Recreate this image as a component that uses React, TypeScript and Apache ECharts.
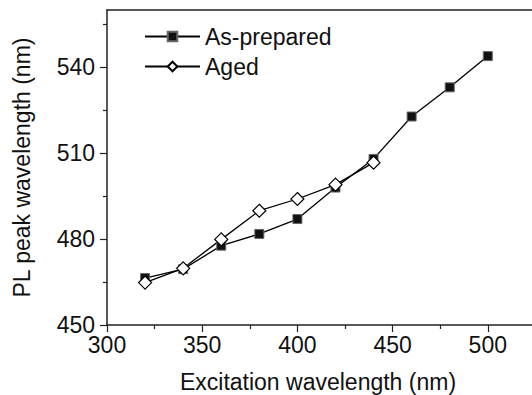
import React, { useEffect, useRef } from "react";
import * as echarts from "echarts";

const asPreparedX = [320, 340, 360, 380, 400, 420, 440, 460, 480, 500];
const asPreparedY = [466.4, 469.5, 477.7, 481.8, 487, 498, 508, 522.8, 533, 543.9];
const agedX = [320, 340, 360, 380, 400, 420, 440];
const agedY = [464.8, 469.8, 479.9, 489.9, 494, 499, 506.7];
const xLabelTicks = [300, 350, 400, 450, 500];
const yMajorTicks = [450, 480, 510, 540];
const yMinorTicks = [465, 495, 525, 555];

const FONT = "Liberation Sans";

export default function App() {
  const ref = useRef<HTMLDivElement>(null);
  useEffect(() => {
    if (!ref.current) return;
    const chart = echarts.init(ref.current, null, { renderer: "svg" });
    const axisColor = "#222";
    const textColor = "#111";
    chart.setOption({
      animation: false,
      backgroundColor: "#fff",
      grid: { left: 107, top: 10, width: 476, height: 315, containLabel: false, outerBoundsMode: "none" },
      legend: {
        orient: "vertical",
        left: 139,
        top: 20,
        itemWidth: 55,
        itemHeight: 12,
        itemGap: 7,
        textStyle: { fontFamily: FONT, fontSize: 23, color: textColor },
        data: ["As-prepared", "Aged"],
      },
      xAxis: [
        {
          type: "value",
          min: 300,
          max: 550,
          interval: 50,
          position: "bottom",
          name: "Excitation wavelength (nm)",
          nameLocation: "middle",
          nameGap: 45,
          nameTextStyle: { fontFamily: FONT, fontSize: 23, color: textColor, padding: [0, 54, 0, 0] },
          axisLine: { show: true, lineStyle: { color: axisColor, width: 1.5 } },
          axisTick: { show: true, inside: false, length: 7, lineStyle: { color: axisColor, width: 1.2 } },
          minorTick: { show: true, splitNumber: 2, length: 4, lineStyle: { color: axisColor, width: 1.2 } },
          axisLabel: { fontFamily: FONT, fontSize: 23, color: textColor, margin: 8, customValues: xLabelTicks },
          splitLine: { show: false },
        },
        {
          type: "value",
          min: 300,
          max: 550,
          position: "top",
          axisLine: { show: true, lineStyle: { color: axisColor, width: 1.5 } },
          axisTick: { show: false },
          axisLabel: { show: false },
          splitLine: { show: false },
        },
      ],
      yAxis: [
        {
          type: "value",
          min: 450,
          max: 560,
          interval: 30,
          name: "PL peak wavelength (nm)",
          nameLocation: "middle",
          nameGap: 74,
          nameTextStyle: { fontFamily: FONT, fontSize: 23, color: textColor },
          axisLine: { show: true, lineStyle: { color: axisColor, width: 1.5 } },
          axisTick: { show: true, length: 7, customValues: yMajorTicks, lineStyle: { color: axisColor, width: 1.2 } },
          axisLabel: { fontFamily: FONT, fontSize: 23, color: textColor, margin: 12, customValues: yMajorTicks },
          splitLine: { show: false },
        },
        {
          type: "value",
          min: 450,
          max: 560,
          position: "left",
          axisLine: { show: false },
          axisTick: { show: true, length: 4, customValues: yMinorTicks, lineStyle: { color: axisColor, width: 1.2 } },
          axisLabel: { show: false },
          splitLine: { show: false },
        },
      ],
      series: [
        {
          name: "As-prepared",
          type: "line",
          xAxisIndex: 0,
          yAxisIndex: 0,
          data: asPreparedX.map((x, i) => [x, asPreparedY[i]]),
          symbol: "rect",
          symbolSize: 9,
          lineStyle: { color: "#000", width: 1.3 },
          itemStyle: { color: "#111", borderColor: "#666", borderWidth: 1 },
        },
        {
          name: "Aged",
          type: "line",
          xAxisIndex: 0,
          yAxisIndex: 0,
          data: agedX.map((x, i) => [x, agedY[i]]),
          symbol: "diamond",
          symbolSize: 13,
          lineStyle: { color: "#000", width: 1.3 },
          itemStyle: { color: "#fff", borderColor: "#000", borderWidth: 1.2 },
        },
      ],
    });
    return () => chart.dispose();
  }, []);
  return <div ref={ref} style={{ width: 532, height: 395, position: "absolute", left: 0, top: 0 }} />;
}
